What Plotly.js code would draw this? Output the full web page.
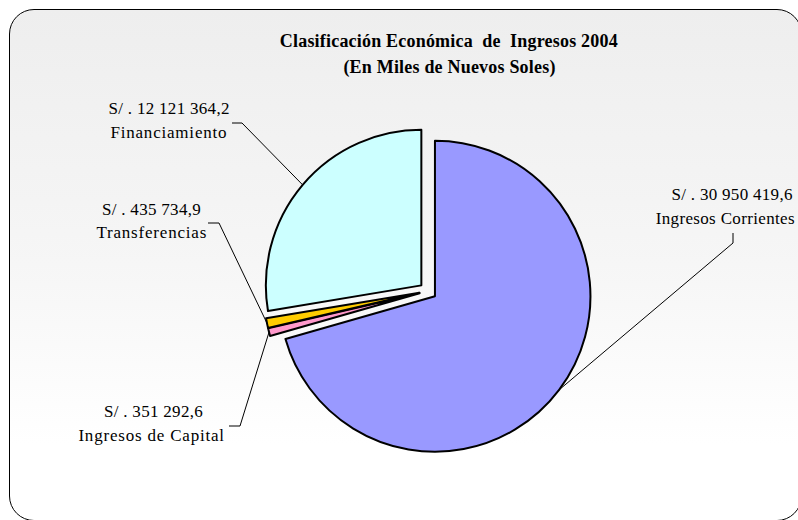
<!DOCTYPE html>
<html>
<head>
<meta charset="utf-8">
<script src="https://cdn.plot.ly/plotly-3.0.1.min.js"></script>
<style>
  html, body { margin: 0; padding: 0; overflow: hidden; background: #ffffff; }
  #wrap { position: relative; width: 798px; height: 520px; overflow: hidden; }
  #frame { position: absolute; left: 9px; top: 9px; width: 793px; height: 512px; box-sizing: border-box;
           border: 1.5px solid #000; border-radius: 25px;
           background: linear-gradient(to bottom, #eeeeee 0%, #f6f6f6 50%, #ffffff 85%); }
  #chart { position: absolute; left: 0; top: 0; width: 798px; height: 520px; }
</style>
</head>
<body>
<div id="wrap">
  <div id="frame"></div>
  <div id="chart"></div>
</div>
<script>
// ---- data ----
var categories = ["Ingresos Corrientes", "Ingresos de Capital", "Transferencias", "Financiamiento"];
var values = [30950419.6, 351292.6, 435734.9, 12121364.2];
var valueLabels = ["S/ . 30 950 419,6", "S/ . 351 292,6", "S/ . 435 734,9", "S/ . 12 121 364,2"];
var colors = ["#9999FF", "#FF99CC", "#FFCC00", "#CCFFFF"];
var titleLines = ["Clasificaci\u00f3n Econ\u00f3mica \u00a0de \u00a0Ingresos 2004", "(En Miles de Nuevos Soles)"];

// ---- layout geometry (pixels) ----
var W = 798, H = 520;
var CX = 428, CY = 291, R = 155.5, PULL = 0.056;
function fx(p) { return p / W; }
function fy(p) { return 1 - p / H; }

var halfBox = R * (1 + PULL);
var domain = {
  x: [fx(CX) - 0.3, fx(CX) + 0.3],
  y: [fy(CY) - halfBox / H, fy(CY) + halfBox / H]
};

// label positions (centre of each text line), letter spacing, and leader line start/elbow
var labelPos = [
  {x1: 732, x2: 725, y1: 194, y2: 218, ls2: 0.35, sx: 733, sy: 233, ex: 733, ey: 243},
  {x1: 153, x2: 152, y1: 411, y2: 435, ls2: 0.8, sx: 229, sy: 426, ex: 240, ey: 426},
  {x1: 151, x2: 151, y1: 209, y2: 233, ls2: 0.8, sx: 208, sy: 223, ex: 219, ey: 223},
  {x1: 169, x2: 169, y1: 108, y2: 132, ls2: 0.8, sx: 232, sy: 123, ex: 242, ey: 123}
];

var total = values.reduce(function (a, b) { return a + b; }, 0);
var annotations = [];
var shapes = [];
var spacing = {};
var cum = 0;
var labelFont = {family: "Liberation Serif, Times New Roman, serif", size: 17, color: "#000"};
for (var i = 0; i < values.length; i++) {
  var frac = values[i] / total;
  var mid = (cum + frac / 2) * 2 * Math.PI; // clockwise from 12 o'clock
  cum += frac;
  var dx = Math.sin(mid), dy = -Math.cos(mid);
  var pcx = CX + dx * R * PULL, pcy = CY + dy * R * PULL;
  var px = pcx + dx * R, py = pcy + dy * R;
  var L = labelPos[i];
  annotations.push({xref: "paper", yref: "paper", x: fx(L.x1), y: fy(L.y1), text: valueLabels[i],
    showarrow: false, xanchor: "center", yanchor: "middle", font: labelFont});
  annotations.push({xref: "paper", yref: "paper", x: fx(L.x2), y: fy(L.y2), text: categories[i],
    showarrow: false, xanchor: "center", yanchor: "middle", font: labelFont});
  spacing[valueLabels[i]] = 0.3;
  spacing[categories[i]] = L.ls2;
  shapes.push({type: "path", xref: "paper", yref: "paper",
    path: "M " + fx(L.sx) + " " + fy(L.sy) + " L " + fx(L.ex) + " " + fy(L.ey) + " L " + fx(px) + " " + fy(py),
    line: {color: "#000", width: 1}});
}

var titleFont = {family: "Liberation Serif, Times New Roman, serif", size: 18, color: "#000", weight: "bold"};
annotations.push({xref: "paper", yref: "paper", x: fx(449), y: fy(41), text: "<b>" + titleLines[0] + "</b>",
  showarrow: false, xanchor: "center", yanchor: "middle", font: titleFont});
annotations.push({xref: "paper", yref: "paper", x: fx(449), y: fy(68), text: "<b>" + titleLines[1] + "</b>",
  showarrow: false, xanchor: "center", yanchor: "middle", font: titleFont});

var trace = {
  type: "pie",
  labels: categories,
  values: values,
  sort: false,
  direction: "clockwise",
  rotation: 0,
  pull: values.map(function () { return PULL; }),
  marker: {colors: colors, line: {color: "#000", width: 2}},
  textinfo: "none",
  hoverinfo: "label+value+percent",
  domain: domain,
  showlegend: false
};

var layout = {
  width: W, height: H,
  margin: {l: 0, r: 0, t: 0, b: 0},
  paper_bgcolor: "rgba(0,0,0,0)",
  plot_bgcolor: "rgba(0,0,0,0)",
  showlegend: false,
  annotations: annotations,
  shapes: shapes
};

Plotly.newPlot("chart", [trace], layout, {displayModeBar: false, staticPlot: true}).then(function (gd) {
  var texts = gd.querySelectorAll(".annotation-text");
  texts.forEach(function (t) {
    var s = t.textContent.replace(/\u00a0/g, " ");
    var ls = 0.2;
    Object.keys(spacing).forEach(function (k) { if (s === k) ls = spacing[k]; });
    t.style.letterSpacing = ls + "px";
  });
});
</script>
</body>
</html>
